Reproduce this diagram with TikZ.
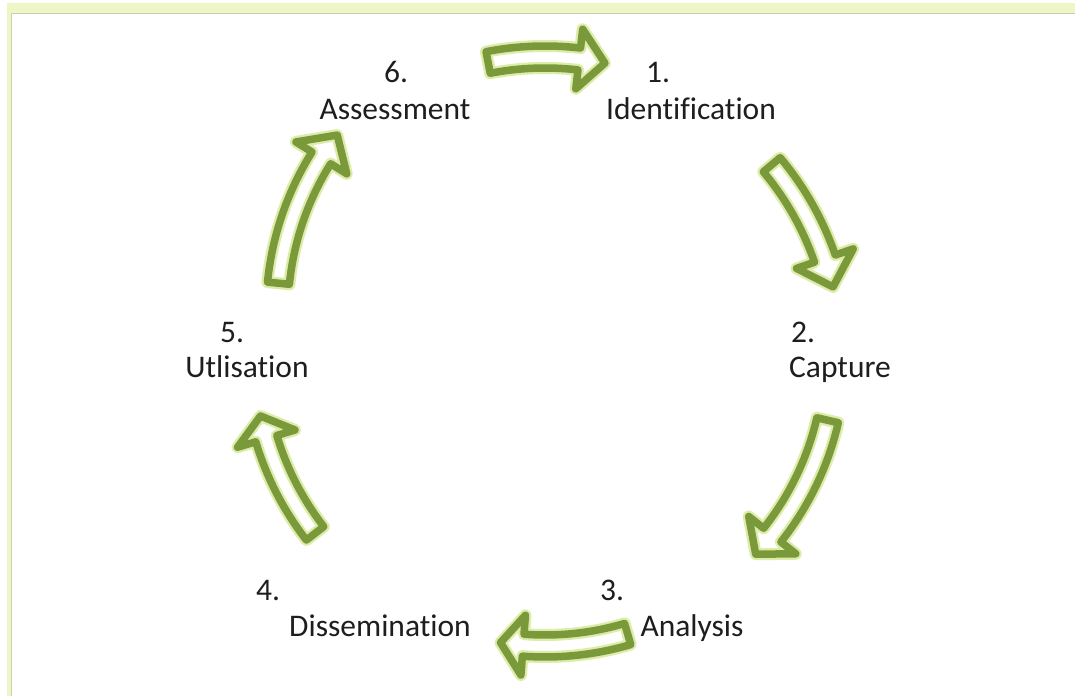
\documentclass[tikz,border=0pt]{standalone}
\usepackage{fontspec}
\setmainfont{Carlito}[Ligatures={NoCommon,NoDiscretionary}]
\definecolor{arrowgreen}{RGB}{122,153,58}
\definecolor{arrowglow}{RGB}{222,236,170}
\definecolor{bandcol}{RGB}{238,245,198}
\definecolor{framecol}{RGB}{201,208,172}
\definecolor{labelgray}{RGB}{30,30,30}

% shaft half-width and head half-width (centre line of the outline)
\def\sw{11}
\def\hw{30}

% curved block arrow around a centre:
% #1,#2 centre, #3 radius, #4 tail angle, #5 head-base angle, #6 tip angle
\newcommand\cyclearrow[6]{%
  \begin{scope}[shift={(#1,#2)}]
    \path[cycarrow]
      ({#4}:{#3+\sw}) arc[start angle=#4, end angle=#5, radius=#3+\sw]
      -- ({#5}:{#3+\hw}) -- ({#6}:{#3}) -- ({#5}:{#3-\hw})
      -- ({#5}:{#3-\sw}) arc[start angle=#5, end angle=#4, radius=#3-\sw]
      -- cycle;
  \end{scope}}

\tikzset{
  cycarrow/.style={fill=white, draw=arrowglow, line width=12pt, line join=round,
    postaction={draw=arrowgreen, line width=7.5pt, line join=round}},
  lbl/.style={anchor=base, text=labelgray, inner sep=0pt,
    font=\fontsize{31.5}{37}\selectfont}
}

\begin{document}
\begin{tikzpicture}[x=1pt,y=1pt]
  \useasboundingbox (0,0) rectangle (1075,696);
  \fill[white] (0,0) rectangle (1075,696);

  % panel frame
  \fill[bandcol] (6.5,0) rectangle (1075,693);
  \fill[white] (12,0) rectangle (1075,682);
  \draw[framecol, line width=1.2pt] (11.5,0) -- (11.5,682.6) -- (1075,682.6);

  % cycle arrows
  \cyclearrow{545}{341}{298}{101}{83.4}{78.4}
  \cyclearrow{545}{341}{296}{40}{19}{13.3}
  \cyclearrow{545}{341}{290}{-13}{-38.4}{-43.4}
  \cyclearrow{545}{341}{291}{-73.5}{-94.3}{-98.8}
  \cyclearrow{545}{341}{291}{217.8}{196.7}{192.1}
  \cyclearrow{567}{384}{290}{174.3}{147.9}{142.4}

  % stage labels
  \node[lbl] (n6) at (396,613) {6.};
  \node[lbl] (t6) at (395,576) {Assessment};
  \node[lbl] (n1) at (658,613) {1.};
  \node[lbl] (t1) at (691,576) {Identification};
  \node[lbl] (n2) at (803,353) {2.};
  \node[lbl] (t2) at (840,318) {Capture};
  \node[lbl] (n3) at (612,96) {3.};
  \node[lbl] (t3) at (692,60) {Analysis};
  \node[lbl] (n4) at (268,96) {4.};
  \node[lbl] (t4) at (380,60) {Dissemination};
  \node[lbl] (n5) at (232,353) {5.};
  \node[lbl] (t5) at (247,318) {Utlisation};
\end{tikzpicture}
\end{document}
